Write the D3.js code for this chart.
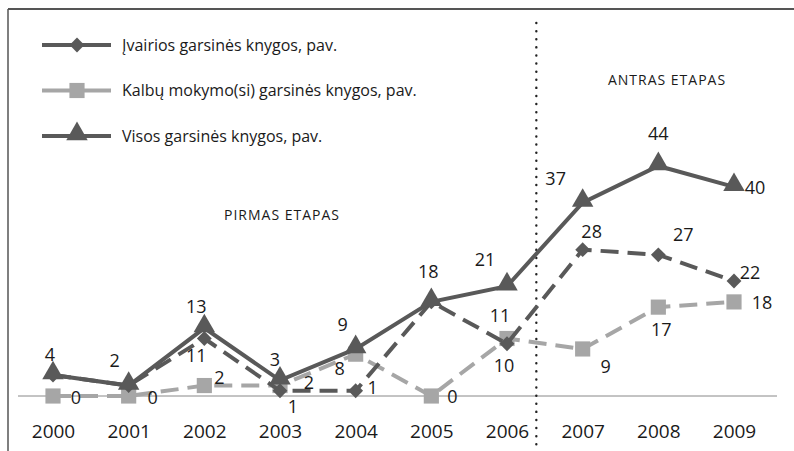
<!DOCTYPE html>
<html>
<head>
<meta charset="utf-8">
<script src="https://cdn.jsdelivr.net/npm/d3@7"></script>
<style>
    body { margin: 0; background: #fff; }
    svg { display: block; }
    text { font-family: "Open Sans", sans-serif; fill: #1a1a1a; }
</style>
</head>
<body>
<svg width="794" height="451"></svg>
<script>

var years = ["2000", "2001", "2002", "2003", "2004", "2005", "2006", "2007", "2008", "2009"];

var ivairios = [4, 2, 11, 1, 1, 18, 10, 28, 27, 22];
var kalbu = [0, 0, 2, 2, 8, 0, 11, 9, 17, 18];
var visos = [4, 2, 13, 3, 9, 18, 21, 37, 44, 40];

var seriesNames = ["Įvairios garsinės knygos, pav.",
    "Kalbų mokymo(si) garsinės knygos, pav.",
    "Visos garsinės knygos, pav."];

// label offsets (dx, dy) from each point; null = label hidden under another
var ivairiosLbl = [null, null, [-8, 17], [13, 16], [17, -3], null, [-3, 22], [9, -18], [25, -20], [16, -8]];
var kalbuLbl = [[23, 2], [24, 2], [15, -8], [29, -3], [-16, 15], [21, 1], [-7, -23], [23, 18], [3, 23], [28, 1]];
var visosLbl = [[-3, -20], [-14, -25], [-8, -21], [-5, -21], [-13, -24], [-3, -30], [-22, -27], [-27, -24], [0, -32], [21, 1]];

d3.select(window).on('load', init);

function init() {
    var svg = d3.select('svg');

    var xScale = d3.scalePoint()
        .domain(years)
        .range([53, 734]);

    var yScale = d3.scaleLinear()
        .domain([0, 44])
        .range([396, 166]);

    // frame (only top and left show)
    svg.append('line')
        .attr('x1', 8).attr('x2', 794).attr('y1', 9).attr('y2', 9)
        .attr('stroke', '#555').attr('stroke-width', 2);
    svg.append('line')
        .attr('x1', 8).attr('x2', 8).attr('y1', 9).attr('y2', 451)
        .attr('stroke', '#555').attr('stroke-width', 1.5);

    // x axis
    var xAxis = d3.axisBottom(xScale).tickSize(0).tickPadding(0);
    var gx = svg.append('g')
        .attr('class', 'axis x')
        .attr('transform', 'translate(0,' + yScale(0) + ')')
        .call(xAxis);
    gx.select('.domain').remove();
    gx.selectAll('text')
        .attr('dy', 0)
        .attr('y', 42)
        .style('font-size', '19px')
        .style('font-family', '"Open Sans", sans-serif')
        .style('fill', '#1a1a1a');
    svg.append('line')
        .attr('x1', 18).attr('x2', 777)
        .attr('y1', yScale(0)).attr('y2', yScale(0))
        .attr('stroke', '#888').attr('stroke-width', 1);

    // stage divider
    var divX = (xScale('2006') + xScale('2007')) / 2 - 8.5;
    svg.append('line')
        .attr('x1', divX).attr('x2', divX)
        .attr('y1', 23).attr('y2', 451)
        .attr('stroke', '#222')
        .attr('stroke-width', 2.4)
        .attr('stroke-linecap', 'round')
        .attr('stroke-dasharray', '0.1,8');

    svg.append('text')
        .attr('x', 282).attr('y', 220)
        .attr('text-anchor', 'middle')
        .style('font-size', '14px')
        .style('letter-spacing', '1px')
        .text('PIRMAS ETAPAS');
    svg.append('text')
        .attr('x', 667).attr('y', 85)
        .attr('text-anchor', 'middle')
        .style('font-size', '14px')
        .style('letter-spacing', '1px')
        .text('ANTRAS ETAPAS');

    var series = [
        {values: ivairios, lbl: ivairiosLbl, color: '#595959', dash: '18,9', marker: 'diamond'},
        {values: kalbu, lbl: kalbuLbl, color: '#a6a6a6', dash: '18,9', marker: 'square'},
        {values: visos, lbl: visosLbl, color: '#595959', dash: null, marker: 'triangle'}
    ];

    var line = d3.line()
        .x(function(d, i){ return xScale(years[i]); })
        .y(function(d){ return yScale(d); });

    var symbols = {
        diamond: d3.symbol().type(d3.symbolSquare).size(110),
        square: d3.symbol().type(d3.symbolSquare).size(230),
        triangle: d3.symbol().type(d3.symbolTriangle).size(200)
    };

    // draw light series first, then dark ones
    [1, 0, 2].forEach(function(k){
        var s = series[k];
        var g = svg.append('g');
        g.append('path')
            .datum(s.values)
            .attr('d', line)
            .attr('fill', 'none')
            .attr('stroke', s.color)
            .attr('stroke-width', 4)
            .attr('stroke-dasharray', s.dash);
        g.selectAll('path.mk')
            .data(s.values)
            .enter()
            .append('path')
            .attr('class', 'mk')
            .attr('d', symbols[s.marker])
            .attr('fill', s.color)
            .attr('transform', function(d, i){
                var t = 'translate(' + xScale(years[i]) + ',' + yScale(d) + ')';
                if (s.marker == 'diamond') t += ' rotate(45)';
                if (s.marker == 'triangle') t += ' translate(0,-2)';
                return t;
            });
    });

    // data labels
    series.forEach(function(s){
        var pts = s.values.map(function(v, i){
            return {v: v, year: years[i], off: s.lbl[i]};
        }).filter(function(p){ return p.off != null; });

        svg.append('g')
            .selectAll('text')
            .data(pts)
            .enter()
            .append('text')
            .attr('x', function(p){ return xScale(p.year) + p.off[0]; })
            .attr('y', function(p){ return yScale(p.v) + p.off[1]; })
            .attr('text-anchor', 'middle')
            .attr('dy', '0.35em')
            .style('font-size', '18px')
            .text(function(p){ return p.v; });
    });

    // legend
    var legend = svg.append('g');
    series.forEach(function(s, i){
        var y = 45 + i * 45.5;
        var row = legend.append('g');
        row.append('line')
            .attr('x1', 42).attr('x2', 111)
            .attr('y1', y).attr('y2', y)
            .attr('stroke', s.color)
            .attr('stroke-width', 4)
            .attr('stroke-dasharray', s.dash ? '30,10,29' : null);
        row.append('path')
            .attr('d', symbols[s.marker])
            .attr('fill', s.color)
            .attr('transform', 'translate(77,' + (s.marker == 'triangle' ? y - 2 : y) + ')' +
                (s.marker == 'diamond' ? ' rotate(45)' : ''));
        row.append('text')
            .attr('x', 122).attr('y', y)
            .attr('dy', '0.35em')
            .style('font-size', '16px')
            .text(seriesNames[i]);
    });
}
</script>
</body>
</html>
